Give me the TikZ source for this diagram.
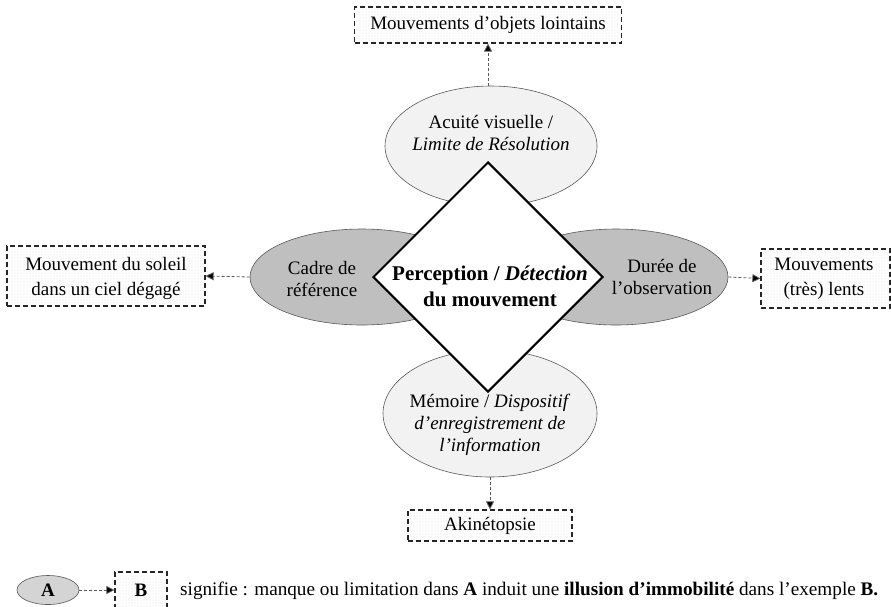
\documentclass[tikz,border=0pt]{standalone}
\usepackage{fontspec}
\setmainfont{Liberation Serif}
\usetikzlibrary{shapes.geometric,arrows.meta,patterns.meta}
\begin{document}
\begin{tikzpicture}[x=1pt,y=-1pt,
  ell/.style={ellipse,draw=black!65,line width=0.6pt,inner sep=0pt},
  lightell/.style={ell,fill=black!5},
  darkell/.style={ell,fill=black!25},
  txt/.style={align=center,font=\fontsize{19}{22}\selectfont,inner sep=0pt},
  boxtxt/.style={align=center,font=\fontsize{19}{25}\selectfont,inner sep=0pt},
  exbox/.style={draw=black!85,line width=1.2pt,dash pattern=on 5pt off 3pt,
    pattern={Dots[radius=0.35pt,distance=3pt]},pattern color=black!30,inner sep=0pt},
  conn/.style={draw=black!65,line width=0.8pt,dash pattern=on 3pt off 2pt,
    -{Triangle[length=8pt,width=8pt,fill=black]}},
]
\useasboundingbox (0,0) rectangle (891,606);

% ellipses
\node[lightell,minimum width=212pt,minimum height=120pt] (topell) at (491,146) {};
\node[darkell,minimum width=224pt,minimum height=96pt] (leftell) at (362,277) {};
\node[darkell,minimum width=224pt,minimum height=96pt] (rightell) at (616,277) {};
\node[lightell,minimum width=214pt,minimum height=127pt] (botell) at (490,413.5) {};

% central diamond
\node[diamond,aspect=1,draw=black,line width=2pt,fill=white,inner sep=0pt,
  minimum width=230pt,minimum height=230pt] (core) at (488,277) {};
\node[align=center,inner sep=0pt,font=\fontsize{21}{26}\selectfont\bfseries] (coretxt) at (490,286)
  {Perception / \textit{Détection}\\du mouvement};

% ellipse texts
\node[txt] (toptxt) at (491,133) {Acuité visuelle /\\\textit{Limite de Résolution}};
\node[txt] (lefttxt) at (322,279) {Cadre de\\référence};
\node[txt] (righttxt) at (662,277) {Durée de\\l’observation};
\node[txt] (bottxt) at (490,425) {Mémoire / \textit{Dispositif}\\\textit{d’enregistrement de}\\\textit{l’information}};

% example boxes
\node[exbox,minimum width=267pt,minimum height=36pt] (topbox) at (488,25) {};
\node[boxtxt] (topboxtxt) at (488,25) {Mouvements d’objets lointains};
\node[exbox,minimum width=198pt,minimum height=60pt] (leftbox) at (106,276) {};
\node[boxtxt] (leftboxtxt) at (106,278) {Mouvement du soleil\\dans un ciel dégagé};
\node[exbox,minimum width=129pt,minimum height=59pt] (rightbox) at (825.5,278.5) {};
\node[boxtxt] (rightboxtxt) at (824,279) {Mouvements\\(très) lents};
\node[exbox,minimum width=164pt,minimum height=31pt] (botbox) at (490,525.5) {};
\node[boxtxt] (botboxtxt) at (490,526) {Akinétopsie};

% connectors
\draw[conn] (topbox.south |- topell.north) -- (topbox.south);
\draw[conn] (leftell.west) -- (leftbox.east);
\draw[conn] (rightell.east) -- (rightbox.west);
\draw[conn] (botbox.north |- botell.south) -- (botbox.north);

% legend
\node[ell,fill=black!17,minimum width=62pt,minimum height=29pt,font=\fontsize{19}{20}\selectfont\bfseries] (legA) at (48,590) {A};
\node[exbox,minimum width=52pt,minimum height=40pt] (legB) at (141,592) {};
\node[font=\fontsize{19}{20}\selectfont\bfseries,inner sep=0pt] (legBtxt) at (141,590) {B};
\draw[conn] (legA.east) -- (legA.east -| legB.west);
\node[anchor=base west,inner sep=0pt,font=\fontsize{19.2}{21}\selectfont] (legtxt) at (180,595)
  {signifie : manque ou limitation dans \textbf{A} induit une \textbf{illusion d’immobilité} dans l’exemple \textbf{B.}};
\end{tikzpicture}
\end{document}
